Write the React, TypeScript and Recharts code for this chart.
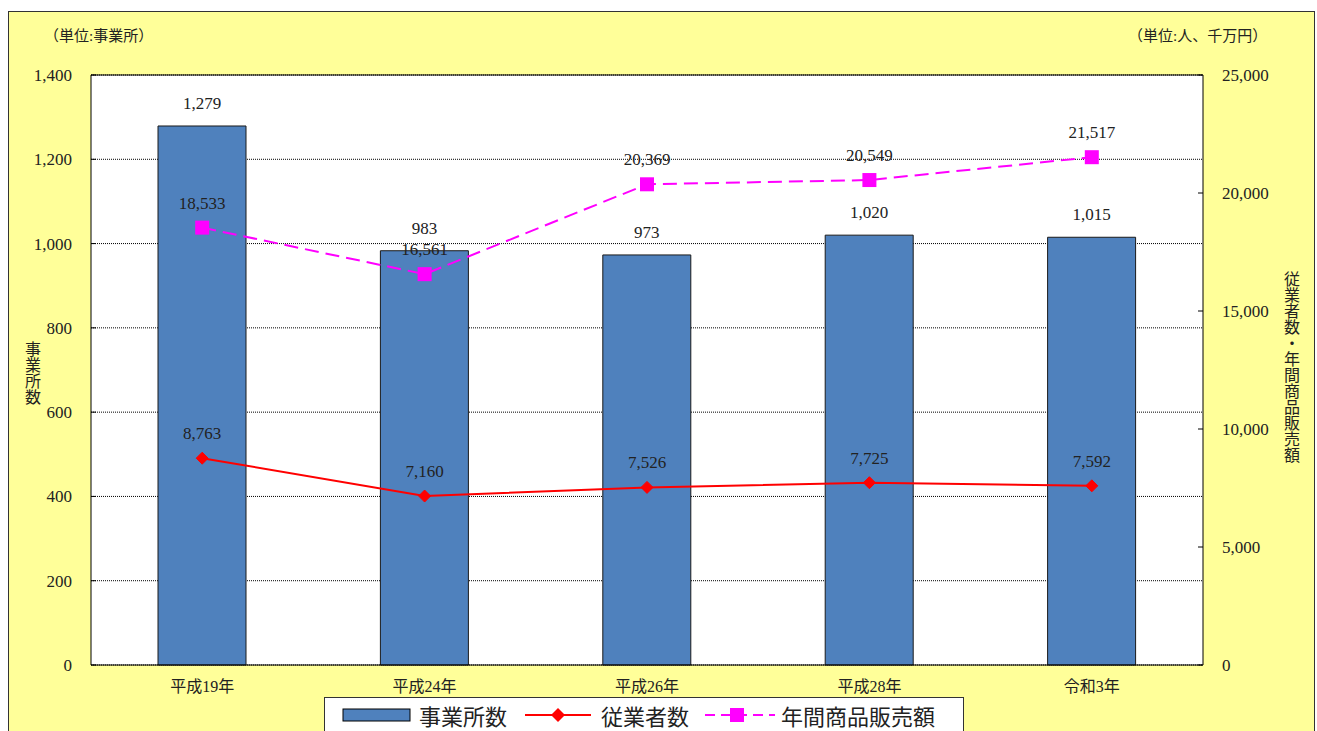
import React from 'react';
import {
  ComposedChart,
  Bar,
  Line,
  XAxis,
  YAxis,
  CartesianGrid,
  LabelList,
  Legend,
  ReferenceLine,
} from 'recharts';

const years = ['平成19年', '平成24年', '平成26年', '平成28年', '令和3年'];
const establishments = [1279, 983, 973, 1020, 1015];
const employees = [8763, 7160, 7526, 7725, 7592];
const sales = [18533, 16561, 20369, 20549, 21517];

const leftTicks = [0, 200, 400, 600, 800, 1000, 1200, 1400];
const rightTicks = [0, 5000, 10000, 15000, 20000, 25000];

const data = years.map((year, i) => ({
  year,
  establishments: establishments[i],
  employees: employees[i],
  sales: sales[i],
}));

const FONT = "'Liberation Serif', 'Noto Sans CJK JP', serif";
const fmt = (v: any) => Number(v).toLocaleString('en-US');

// 菱形マーカー
const Diamond = (props: any) => {
  const { cx, cy } = props;
  if (cx == null || cy == null) return null;
  const r = 6;
  return (
    <polygon
      points={`${cx},${cy - r} ${cx + r},${cy} ${cx},${cy + r} ${cx - r},${cy}`}
      fill="#FF0000"
      stroke="#FF0000"
    />
  );
};

// 四角マーカー
const Square = (props: any) => {
  const { cx, cy } = props;
  if (cx == null || cy == null) return null;
  const s = 14;
  return <rect x={cx - s / 2} y={cy - s / 2} width={s} height={s} fill="#FF00FF" />;
};

const LegendBox = () => (
  <div
    style={{
      width: 640,
      height: 36,
      background: '#fff',
      border: '1px solid #333',
      boxSizing: 'border-box',
      display: 'flex',
      alignItems: 'center',
      fontFamily: FONT,
      fontSize: 22,
      color: '#222',
    }}
  >
    <svg width={90} height={20} style={{ marginLeft: 4 }}>
      <rect x={14} y={4} width={67} height={12} fill="#4F81BD" stroke="#000" />
    </svg>
    <span style={{ marginRight: 14 }}>事業所数</span>
    <svg width={74} height={20}>
      <line x1={4} y1={10} x2={70} y2={10} stroke="#FF0000" strokeWidth={2} />
      <polygon points="37,3 44,10 37,17 30,10" fill="#FF0000" />
    </svg>
    <span style={{ marginLeft: 6, marginRight: 14 }}>従業者数</span>
    <svg width={74} height={20}>
      <line x1={2} y1={10} x2={72} y2={10} stroke="#FF00FF" strokeWidth={2} strokeDasharray="10 6" />
      <rect x={27} y={3} width={14} height={14} fill="#FF00FF" />
    </svg>
    <span style={{ marginLeft: 4 }}>年間商品販売額</span>
  </div>
);

export default function App() {
  return (
    <div style={{ padding: '11px 0 0 8px', width: 1317, height: 731, boxSizing: 'border-box', overflow: 'hidden' }}>
      <style>{'html { overflow: hidden; } body { margin: 0; }'}</style>
      <div
        style={{
          position: 'relative',
          width: 1307,
          height: 720,
          background: '#FFFF99',
          boxShadow: 'inset 1px 1px 0 #333, inset -1px 0 0 #333',
          fontFamily: FONT,
          color: '#222',
        }}
      >
        <div style={{ position: 'absolute', left: 36, top: 13, fontSize: 15 }}>（単位:事業所）</div>
        <div style={{ position: 'absolute', left: 1120, top: 13, fontSize: 15 }}>（単位:人、千万円）</div>
        <div
          style={{
            position: 'absolute',
            left: 15,
            top: 330,
            fontSize: 16,
            writingMode: 'vertical-rl',
            lineHeight: 1,
          }}
        >
          事業所数
        </div>
        <div
          style={{
            position: 'absolute',
            left: 1274,
            top: 260,
            fontSize: 16,
            writingMode: 'vertical-rl',
            lineHeight: 1,
          }}
        >
          従業者数・年間商品販売額
        </div>
        <ComposedChart
          width={1307}
          height={720}
          data={data}
          margin={{ top: 64, right: 0, bottom: 0, left: 0 }}
          style={{ position: 'absolute', left: 0, top: 0 }}
        >
          <CartesianGrid
            yAxisId="left"
            vertical={false}
            fill="#fff"
            stroke="#000"
            strokeDasharray="1 1"
          />
          <XAxis
            dataKey="year"
            height={66}
            tickLine={false}
            axisLine={{ stroke: '#000' }}
            tickMargin={10}
            tick={{ fontSize: 16, fill: '#222', fontFamily: FONT }}
          />
          <YAxis
            yAxisId="left"
            width={83}
            domain={[0, 1400]}
            ticks={leftTicks}
            tickSize={-5}
            tickMargin={24}
            axisLine={{ stroke: '#000' }}
            tickLine={{ stroke: '#000' }}
            tick={{ fontSize: 17, fill: '#222', fontFamily: FONT }}
            tickFormatter={fmt}
          />
          <YAxis
            yAxisId="right"
            orientation="right"
            width={112}
            domain={[0, 25000]}
            ticks={rightTicks}
            tickSize={-5}
            tickMargin={24}
            axisLine={{ stroke: '#000' }}
            tickLine={{ stroke: '#000' }}
            tick={{ fontSize: 17, fill: '#222', fontFamily: FONT }}
            tickFormatter={fmt}
          />
          <ReferenceLine yAxisId="left" y={1400} stroke="#000" />
          <Bar
            yAxisId="left"
            dataKey="establishments"
            barSize={88}
            fill="#4F81BD"
            stroke="#1a1a1a"
            strokeWidth={1}
            isAnimationActive={false}
          >
            <LabelList
              dataKey="establishments"
              position="top"
              offset={17}
              formatter={fmt}
              style={{ fontSize: 17, fill: '#222', fontFamily: FONT }}
            />
          </Bar>
          <Line
            yAxisId="right"
            dataKey="employees"
            stroke="#FF0000"
            strokeWidth={2}
            dot={<Diamond />}
            activeDot={false}
            isAnimationActive={false}
          >
            <LabelList
              dataKey="employees"
              position="top"
              offset={19}
              formatter={fmt}
              style={{ fontSize: 17, fill: '#222', fontFamily: FONT }}
            />
          </Line>
          <Line
            yAxisId="right"
            dataKey="sales"
            stroke="#FF00FF"
            strokeWidth={2}
            strokeDasharray="14 7"
            dot={<Square />}
            activeDot={false}
            isAnimationActive={false}
          >
            <LabelList
              dataKey="sales"
              position="top"
              offset={19}
              formatter={fmt}
              style={{ fontSize: 17, fill: '#222', fontFamily: FONT }}
            />
          </Line>
          <Legend
            verticalAlign="middle"
            align="center"
            layout="horizontal"
            content={() => <LegendBox />}
            wrapperStyle={{ left: 316, top: 686, width: 640, height: 36 }}
          />
        </ComposedChart>
      </div>
    </div>
  );
}
